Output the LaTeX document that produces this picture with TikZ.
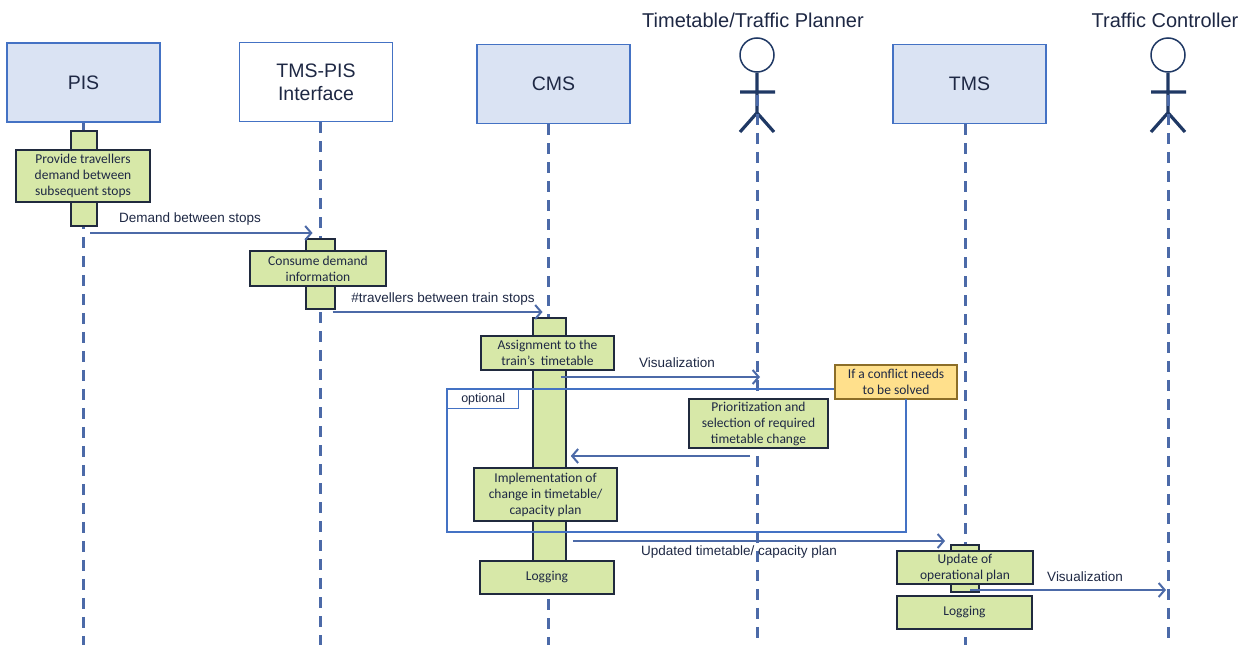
\documentclass[tikz,border=0pt]{standalone}
\usepackage{fontspec}
\setmainfont{Liberation Sans}
\newfontfamily\boxfont{Carlito}
\usetikzlibrary{arrows.meta,positioning,calc}

\definecolor{hdrfill}{RGB}{218,227,243}
\definecolor{hdrline}{RGB}{68,114,196}
\definecolor{actfill}{RGB}{215,232,168}
\definecolor{actline}{RGB}{32,42,62}
\definecolor{msgline}{RGB}{76,106,168}
\definecolor{notefill}{RGB}{255,224,140}
\definecolor{noteline}{RGB}{140,110,40}
\definecolor{txtcol}{RGB}{30,40,68}
\definecolor{actorcol}{RGB}{31,56,100}

\tikzset{
  hdr/.style={draw=hdrline, fill=hdrfill, line width=1.7pt, minimum width=153pt, minimum height=79pt, align=center, text=txtcol, font=\fontsize{19.5}{23}\selectfont},
  actlbl/.style={text=txtcol, font=\fontsize{20}{22}\selectfont},
  life/.style={draw=msgline, line width=3pt, dash pattern=on 11pt off 8pt},
  bar/.style={draw=actline, fill=actfill, line width=1.6pt},
  act/.style={draw=actline, fill=actfill, line width=1.6pt, align=center, inner sep=0pt, text=txtcol, font=\boxfont\fontsize{13.5}{16}\selectfont},
  msg/.style={draw=msgline, line width=2pt, -{Straight Barb[length=6pt,width=14pt,line width=2pt]}},
  lbl/.style={text=txtcol, font=\fontsize{13.5}{15}\selectfont},
  frame/.style={draw=hdrline, line width=1.4pt},
}

\begin{document}
\begin{tikzpicture}[x=1pt,y=-1pt]
\useasboundingbox (0,0) rectangle (1247,645);
\coordinate (bottom) at (0,645);

% Headers
\node[hdr] (pis) at (83.5,82.5) {PIS};
\node[hdr, fill=white] (tmspis) at (316,82) {TMS-PIS\\Interface};
\node[hdr] (cms) at (553.5,84) {CMS};
\node[hdr] (tms) at (969.5,84) {TMS};

% Actors
\node[circle, draw=actorcol, line width=1.5pt, minimum size=34pt, inner sep=0pt] (planner) at (757,55) {};
\node[actlbl] (plannerlbl) at (753,20) {Timetable/Traffic Planner};
\draw[actorcol, line width=3.2pt] (planner.south) -- ++(0,40) coordinate (plannerhip)
  (740,92) -- (775,92)
  (740,132) -- (plannerhip) -- (774,132);
\node[circle, draw=actorcol, line width=1.5pt, minimum size=34pt, inner sep=0pt] (ctrl) at (1168,55) {};
\node[actlbl] (ctrllbl) at (1165,20) {Traffic Controller};
\draw[actorcol, line width=3.2pt] (ctrl.south) -- ++(0,40) coordinate (ctrlhip)
  (1151,92) -- (1186,92)
  (1151,132) -- (ctrlhip) -- (1185,132);

% Lifelines
\draw[life] (pis.south) -- (pis.south |- bottom);
\draw[life] ([xshift=4pt]tmspis.south) -- ([xshift=4pt]tmspis.south |- bottom);
\draw[life] ([xshift=-5pt]cms.south) -- ([xshift=-5pt]cms.south |- bottom);
\draw[life] ([yshift=18pt]plannerhip) -- (plannerhip |- bottom);
\draw[life] ([xshift=-4pt]tms.south) -- ([xshift=-4pt]tms.south |- bottom);
\draw[life] ([yshift=18pt]ctrlhip) -- (ctrlhip |- bottom);

% Activation bars
\node[bar, minimum width=26pt, minimum height=95pt] (pisbar) at (84,178.5) {};
\node[bar, minimum width=29pt, minimum height=70pt] (tmspisbar) at (320.5,274) {};
\node[bar, minimum width=33pt, minimum height=244pt] (cmsbar) at (549.5,440) {};
\node[bar, minimum width=28pt, minimum height=47pt] (tmsbar) at (965,568.5) {};

% Optional frame
\node[act, fill=notefill, draw=noteline, minimum width=122pt, minimum height=34pt] (note) at (896,382) {If a conflict needs\\to be solved};
\draw[frame] (note.west |- 0,389) -- (447,389) -- (447,532) -- (906,532) -- (906,399);
\node[draw=hdrline, fill=white, line width=1.3pt, anchor=north west, minimum width=71pt, minimum height=19pt, inner sep=0pt, text=txtcol, font=\fontsize{12.5}{14}\selectfont] (optlbl) at (447,389) {optional};

% Activities
\node[act, minimum width=134pt, minimum height=52pt] (provide) at (83,176) {Provide travellers\\demand between\\subsequent stops};
\node[act, minimum width=136pt, minimum height=35pt] (consume) at (318,268.5) {Consume demand\\information};
\node[act, minimum width=133pt, minimum height=34pt] (assign) at (547.5,353) {Assignment to the\\train’s\ \ timetable};
\node[act, minimum width=139pt, minimum height=49pt] (prior) at (758.5,423.5) {Prioritization and\\selection of required\\timetable change};
\node[act, minimum width=143pt, minimum height=53pt] (impl) at (545.5,494.5) {Implementation of\\change in timetable/\\capacity plan};
\node[act, minimum width=134pt, minimum height=33pt] (cmslog) at (547,577.5) {Logging};
\node[act, minimum width=136pt, minimum height=33pt] (update) at (965,567.5) {Update of\\operational plan};
\node[act, minimum width=135pt, minimum height=33pt] (tmslog) at (964.5,612.5) {Logging};

% Messages
\draw[msg] ([xshift=6pt]pisbar.center |- 0,233) -- ([xshift=-8pt]tmspisbar.center |- 0,233);
\node[lbl] (m1) at (190,219) {Demand between stops};
\draw[msg] ([xshift=12pt]tmspisbar.center |- 0,312) -- ([xshift=-7pt]cmsbar.center |- 0,312);
\node[lbl] (m2) at (443,299) {\#travellers between train stops};
\draw[msg] ([xshift=11pt]cmsbar.center |- 0,377) -- ([xshift=3pt]plannerhip |- 0,377);
\node[lbl] (m3) at (677,363) {Visualization};
\draw[msg] ([xshift=-7pt]plannerhip |- 0,456) -- ([xshift=4pt]cmsbar.east |- 0,456);
\draw[msg] ([xshift=6pt]cmsbar.east |- 0,541) -- ([xshift=-20pt]tmsbar.center |- 0,541);
\node[lbl] (m5) at (739,552) {Updated timetable/ capacity plan};
\draw[msg] ([xshift=5pt]tmsbar.center |- 0,590) -- ([xshift=-2pt]ctrlhip |- 0,590);
\node[lbl] (m6) at (1085,577) {Visualization};
\end{tikzpicture}
\end{document}
